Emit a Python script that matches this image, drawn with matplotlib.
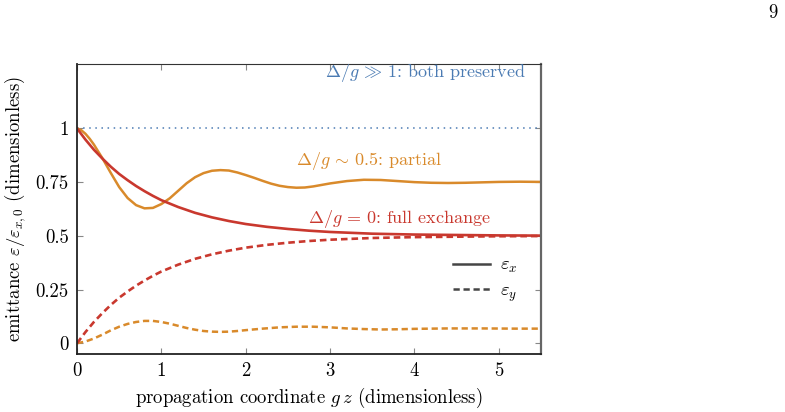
import numpy as np
import matplotlib
matplotlib.use("Agg")
import matplotlib.pyplot as plt
from matplotlib.lines import Line2D

plt.rcParams['font.family'] = 'serif'
plt.rcParams['font.serif'] = ['cmr10']
plt.rcParams['mathtext.fontset'] = 'cm'
plt.rcParams['axes.formatter.use_mathtext'] = True

# Delta/g = 0 : full exchange
gz_red = [0, 0.1, 0.2, 0.3, 0.4, 0.5, 0.6, 0.7, 0.8, 0.9, 1.0, 1.2, 1.4, 1.6,
          1.8, 2.0, 2.25, 2.5, 2.75, 3.0, 3.5, 4.0, 4.5, 5.0, 5.5]
ex_red = [1.0, 0.948, 0.901, 0.860, 0.822, 0.788, 0.759, 0.732, 0.708, 0.686,
          0.666, 0.634, 0.607, 0.586, 0.569, 0.555, 0.542, 0.532, 0.524, 0.518,
          0.510, 0.506, 0.504, 0.502, 0.501]
ey_red = [0.0, 0.052, 0.099, 0.140, 0.178, 0.212, 0.241, 0.268, 0.292, 0.314,
          0.334, 0.366, 0.393, 0.414, 0.431, 0.445, 0.458, 0.468, 0.476, 0.482,
          0.490, 0.494, 0.496, 0.498, 0.499]

# Delta/g ~ 0.5 : partial
gz_ox = [0, 0.05, 0.1, 0.15, 0.2, 0.3, 0.4, 0.5, 0.6, 0.7, 0.8, 0.9, 1.0, 1.1,
         1.2, 1.3, 1.4, 1.5, 1.6, 1.7, 1.8, 1.9, 2.0, 2.1, 2.2, 2.3, 2.4, 2.5,
         2.6, 2.7, 2.8, 2.9, 3.0, 3.2, 3.4, 3.6, 3.8, 4.0, 4.2, 4.4, 4.6, 4.8,
         5.0, 5.25, 5.5]
ex_orange = [1.0, 0.992, 0.975, 0.952, 0.925, 0.862, 0.793, 0.727, 0.676, 0.643,
             0.628, 0.630, 0.648, 0.675, 0.710, 0.745, 0.773, 0.792, 0.803, 0.806,
             0.804, 0.795, 0.783, 0.770, 0.756, 0.743, 0.733, 0.727, 0.724, 0.725,
             0.730, 0.737, 0.744, 0.755, 0.761, 0.760, 0.755, 0.750, 0.747, 0.746,
             0.747, 0.749, 0.751, 0.752, 0.751]
gz_oy = [0, 0.1, 0.2, 0.3, 0.4, 0.5, 0.6, 0.7, 0.8, 0.9, 1.0, 1.1, 1.2, 1.3,
         1.4, 1.5, 1.6, 1.7, 1.8, 1.9, 2.0, 2.2, 2.4, 2.6, 2.8, 3.0, 3.2, 3.4,
         3.6, 3.8, 4.0, 4.4, 4.8, 5.2, 5.5]
ey_orange = [0.0, 0.008, 0.022, 0.040, 0.060, 0.077, 0.090, 0.099, 0.104, 0.104,
             0.099, 0.091, 0.081, 0.071, 0.063, 0.057, 0.054, 0.053, 0.054, 0.057,
             0.061, 0.068, 0.074, 0.077, 0.077, 0.074, 0.069, 0.066, 0.064, 0.065,
             0.067, 0.069, 0.069, 0.068, 0.068]

# Delta/g >> 1 : both preserved
gz_blue = [0, 5.5]
ex_blue = [1.0, 1.0]

c_red = '#c9382e'
c_orange = '#d98a2b'
c_blue = '#4b7bb3'
c_gray = '#454545'
fs = 13.5

fig = plt.figure(figsize=(7.85, 4.12), dpi=100)
ax = fig.add_axes([0.0981, 0.1408, 0.5911, 0.7039])

ax.plot(gz_blue, ex_blue, color=c_blue, lw=1.1, ls=(0, (1, 3)))
ax.plot(gz_ox, ex_orange, color=c_orange, lw=1.8)
ax.plot(gz_oy, ey_orange, color=c_orange, lw=1.8, ls=(0, (2.5, 1.5)))
ax.plot(gz_red, ex_red, color=c_red, lw=1.9)
ax.plot(gz_red, ey_red, color=c_red, lw=1.9, ls=(0, (2.5, 1.5)))

ax.text(4.13, 1.256, r"$\Delta/g\,\gg\,1$: both preserved", color=c_blue,
        fontsize=13, ha='center', va='center')
ax.text(3.46, 0.847, r"$\Delta/g\,\sim\,0.5$: partial", color=c_orange,
        fontsize=13, ha='center', va='center')
ax.text(3.82, 0.58, r"$\Delta/g\,=\,0$: full exchange", color=c_red,
        fontsize=13, ha='center', va='center')

ax.set_xlim(0, 5.5)
ax.set_ylim(-0.05, 1.3)
ax.set_xticks([0, 1, 2, 3, 4, 5])
ax.set_xticklabels(['0', '1', '2', '3', '4', '5'])
ax.set_yticks([0, 0.25, 0.5, 0.75, 1])
ax.set_yticklabels(['0', '0.25', '0.5', '0.75', '1'])
ax.tick_params(axis='both', direction='in', length=4, width=0.8, color='#888888',
               labelsize=fs, top=True, right=True, pad=6)

ax.set_xlabel(r"propagation coordinate $g\,z$ (dimensionless)", fontsize=fs, labelpad=4)
ax.set_ylabel(r"emittance $\varepsilon/\varepsilon_{x,0}$ (dimensionless)", fontsize=fs, labelpad=5)

ax.spines['left'].set_linewidth(1.3)
ax.spines['left'].set_color('#222222')
ax.spines['bottom'].set_linewidth(1.3)
ax.spines['bottom'].set_color('#222222')
ax.spines['top'].set_linewidth(0.8)
ax.spines['top'].set_color('#333333')
ax.spines['right'].set_linewidth(1.6)
ax.spines['right'].set_color('#666666')

handles = [Line2D([], [], color=c_gray, lw=1.8),
           Line2D([], [], color=c_gray, lw=1.8, ls=(0, (2.5, 1.5)))]
ax.legend(handles, [r"$\varepsilon_x$", r"$\varepsilon_y$"], frameon=False,
          fontsize=fs, handlelength=2.0, handletextpad=0.5, labelspacing=0.35,
          loc='center right', bbox_to_anchor=(0.985, 0.255))

fig.text(0.99, 0.968, "9", fontsize=fs, ha='right', va='center')

fig.savefig("out.png", dpi=100)
